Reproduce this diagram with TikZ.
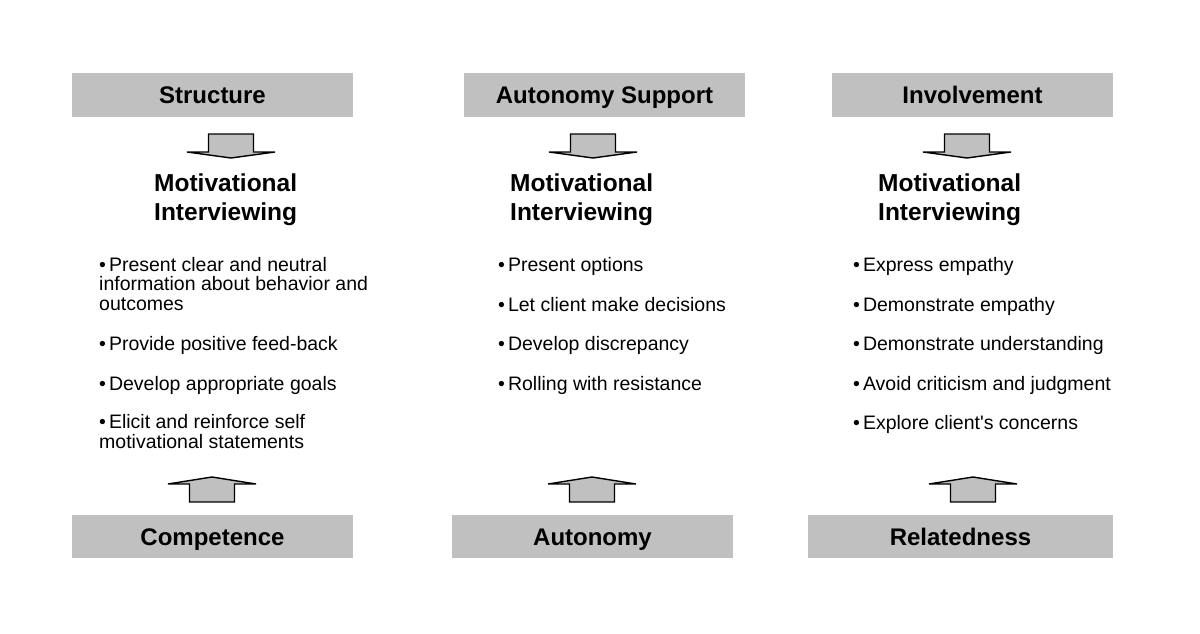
\documentclass[tikz,border=0pt]{standalone}
\usepackage{fontspec}
\setmainfont{Liberation Sans}
\newfontfamily\plainsans{Liberation Sans}
\usetikzlibrary{positioning}

\definecolor{boxgray}{HTML}{C0C0C0}

\begin{document}
\begin{tikzpicture}[x=1pt,y=-1pt,
    topbox/.style={fill=boxgray,minimum width=281pt,minimum height=44pt,inner sep=0pt,
      text height=17.3pt,text depth=0pt,
      font=\plainsans\fontsize{24}{28}\selectfont\bfseries},
    motiv/.style={anchor=base west,align=left,inner sep=0pt,
      font=\plainsans\fontsize{24.5}{29}\selectfont\bfseries},
    item/.style={anchor=base west,align=left,inner sep=0pt,
      font=\plainsans\fontsize{19.5}{19.7}\selectfont},
    blockarr/.style={draw=black,fill=boxgray,line width=1.4pt,line join=miter}]
  \useasboundingbox[fill=white] (0,0) rectangle (1200,634);

  % header boxes
  \node[topbox] (structure) at (212.5,95) {Structure};
  \node[topbox] (autsupport) at (604.5,95) {Autonomy Support};
  \node[topbox] (involvement) at (972.5,95) {Involvement};

  % need boxes
  \node[topbox,minimum height=43pt] (competence) at (212.5,536.5) {Competence};
  \node[topbox,minimum height=43pt] (autonomy) at (592.5,536.5) {Autonomy};
  \node[topbox,minimum height=43pt,minimum width=305pt] (relatedness) at (960.5,536.5) {Relatedness};

  % arrows down
  \foreach \cx in {231,593,967}{
    \draw[blockarr] ({\cx-22.5},134) -- ({\cx+22.5},134) -- ({\cx+22.5},152) -- ({\cx+44},152)
      -- (\cx,158) -- ({\cx-44},152) -- ({\cx-22.5},152) -- cycle;
  }

  % arrows up
  \foreach \cx in {212,592,973}{
    \draw[blockarr] ({\cx-22.5},502) -- ({\cx-22.5},484) -- ({\cx-44},484) -- (\cx,477)
      -- ({\cx+44},484) -- ({\cx+22.5},484) -- ({\cx+22.5},502) -- cycle;
  }

  % base anchor sits on the last line
  \node[motiv] (mi1) at (154,220) {Motivational\\Interviewing};
  \node[motiv] (mi2) at (510,220) {Motivational\\Interviewing};
  \node[motiv] (mi3) at (878,220) {Motivational\\Interviewing};

  % structure column
  \node[item] (s1) at (99,310.5) {•\hspace{3pt}Present clear and neutral\\information about behavior and\\outcomes};
  \node[item] (s2) at (99,350) {•\hspace{3pt}Provide positive feed-back};
  \node[item] (s3) at (99,390) {•\hspace{3pt}Develop appropriate goals};
  \node[item] (s4) at (99,448.5) {•\hspace{3pt}Elicit and reinforce self\\motivational statements};

  % autonomy column
  \node[item] (a1) at (498,271) {•\hspace{3pt}Present options};
  \node[item] (a2) at (498,311) {•\hspace{3pt}Let client make decisions};
  \node[item] (a3) at (498,350) {•\hspace{3pt}Develop discrepancy};
  \node[item] (a4) at (498,390) {•\hspace{3pt}Rolling with resistance};

  % involvement column
  \node[item] (i1) at (853,271) {•\hspace{3pt}Express empathy};
  \node[item] (i2) at (853,311) {•\hspace{3pt}Demonstrate empathy};
  \node[item] (i3) at (853,350) {•\hspace{3pt}Demonstrate understanding};
  \node[item] (i4) at (853,390) {•\hspace{3pt}Avoid criticism and judgment};
  \node[item] (i5) at (853,429) {•\hspace{3pt}Explore client's concerns};
\end{tikzpicture}
\end{document}
